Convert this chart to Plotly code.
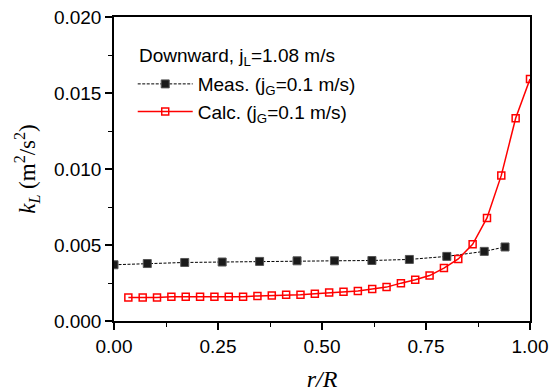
import plotly.graph_objects as go

# Measured data
meas_x = [0.00, 0.08, 0.17, 0.26, 0.35, 0.44, 0.53, 0.62, 0.71, 0.80, 0.89, 0.94]
meas_y = [0.00370, 0.00378, 0.00385, 0.00388, 0.00392, 0.00396, 0.00396, 0.00398,
          0.00405, 0.00425, 0.00458, 0.00487]

# Calculated data
calc_x = [0.0345, 0.0690, 0.1034, 0.1379, 0.1724, 0.2069, 0.2414, 0.2759, 0.3103,
          0.3448, 0.3793, 0.4138, 0.4483, 0.4828, 0.5172, 0.5517, 0.5862, 0.6207,
          0.6552, 0.6897, 0.7241, 0.7586, 0.7931, 0.8276, 0.8621, 0.8966, 0.9310,
          0.9655, 1.0000]
calc_y = [0.00154, 0.00154, 0.00154, 0.00160, 0.00160, 0.00160, 0.00160, 0.00160,
          0.00160, 0.00165, 0.00167, 0.00172, 0.00172, 0.00180, 0.00187, 0.00192,
          0.00198, 0.00211, 0.00223, 0.00249, 0.00271, 0.00299, 0.00348, 0.00408,
          0.00505, 0.00678, 0.00958, 0.01334, 0.01592]

x_ticks = [0.0, 0.25, 0.5, 0.75, 1.0]
x_ticklabels = ["0.00", "0.25", "0.50", "0.75", "1.00"]
y_ticks = [0.0, 0.005, 0.010, 0.015, 0.020]
y_ticklabels = ["0.000", "0.005", "0.010", "0.015", "0.020"]

legend_title = "Downward, j<sub>L</sub>=1.08 m/s"

fig = go.Figure()
fig.add_trace(go.Scatter(
    x=meas_x, y=meas_y, mode="lines+markers",
    name="Meas. (j<sub>G</sub>=0.1 m/s)",
    line=dict(color="black", width=1, dash="3px,1.5px"),
    marker=dict(symbol="square", size=8, color="#1a1a1a",
                line=dict(color="#555555", width=1)),
))
fig.add_trace(go.Scatter(
    x=calc_x, y=calc_y, mode="lines+markers",
    name="Calc. (j<sub>G</sub>=0.1 m/s)",
    line=dict(color="#ff0000", width=1.5),
    marker=dict(symbol="square-open", size=7, color="#ff0000",
                line=dict(color="#ff0000", width=1.5)),
))

sans = "Liberation Sans, Arial, sans-serif"
serif = "Liberation Serif, Times New Roman, serif"
axis_font = dict(family=sans, size=19, color="black")

fig.add_annotation(
    text=legend_title, xref="paper", yref="paper", x=0.055, y=0.868,
    xanchor="left", yanchor="middle", showarrow=False,
    font=dict(family=sans, size=19, color="black"),
)

fig.update_layout(
    width=559, height=392,
    margin=dict(l=114, r=29, t=17, b=71),
    paper_bgcolor="white", plot_bgcolor="white",
    showlegend=True,
    legend=dict(
        x=0.045, y=0.842, xanchor="left", yanchor="top",
        bgcolor="rgba(0,0,0,0)",
        font=dict(family=sans, size=19, color="black"),
        tracegroupgap=0, itemwidth=55,
    ),
    xaxis=dict(
        range=[0, 1.0], tickvals=x_ticks, ticktext=x_ticklabels,
        showgrid=False, zeroline=False, automargin=False,
        showline=True, linecolor="black", linewidth=1.5, mirror=True,
        ticks="outside", ticklen=7, tickwidth=1.5, tickcolor="black",
        minor=dict(dtick=0.125, ticks="outside", ticklen=4, tickwidth=1, tickcolor="black"),
        tickfont=axis_font,
        title=dict(text="<i>r/R</i>", font=dict(family=serif, size=24, color="black"), standoff=16),
    ),
    yaxis=dict(
        range=[0, 0.020], tickvals=y_ticks, ticktext=y_ticklabels,
        showgrid=False, zeroline=False, automargin=False,
        showline=True, linecolor="black", linewidth=1.5, mirror=True,
        ticks="outside", ticklen=7, tickwidth=1.5, tickcolor="black",
        minor=dict(dtick=0.0025, ticks="outside", ticklen=4, tickwidth=1, tickcolor="black"),
        tickfont=axis_font,
        title=dict(text="<i>k<sub>L</sub></i> (m<sup>2</sup>/s<sup>2</sup>)",
                   font=dict(family=serif, size=23, color="black"), standoff=12),
    ),
)

fig.write_html("out.html", config={"displayModeBar": False},
               post_script="document.body.style.margin='0';")
